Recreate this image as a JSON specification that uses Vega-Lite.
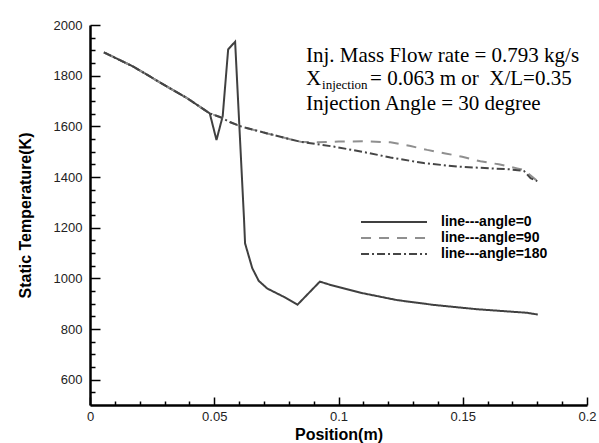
{
  "$schema": "https://vega.github.io/schema/vega-lite/v6.json",
  "width": 497,
  "height": 380,
  "autosize": {"type": "none"},
  "padding": {"left": 90, "top": 25, "right": 12, "bottom": 38},
  "background": "white",
  "config": {"view": {"stroke": null}},
  "datasets": {
    "curves": [
      {"series": "line---angle=0", "position": 0.0056, "temperature": 1892},
      {"series": "line---angle=0", "position": 0.0176, "temperature": 1835},
      {"series": "line---angle=0", "position": 0.0311, "temperature": 1756},
      {"series": "line---angle=0", "position": 0.0391, "temperature": 1711},
      {"series": "line---angle=0", "position": 0.0482, "temperature": 1651},
      {"series": "line---angle=0", "position": 0.0509, "temperature": 1546},
      {"series": "line---angle=0", "position": 0.0534, "temperature": 1640},
      {"series": "line---angle=0", "position": 0.0556, "temperature": 1904},
      {"series": "line---angle=0", "position": 0.0584, "temperature": 1934},
      {"series": "line---angle=0", "position": 0.0620, "temperature": 1230},
      {"series": "line---angle=0", "position": 0.0624, "temperature": 1138},
      {"series": "line---angle=0", "position": 0.0653, "temperature": 1040},
      {"series": "line---angle=0", "position": 0.0679, "temperature": 990},
      {"series": "line---angle=0", "position": 0.0713, "temperature": 960},
      {"series": "line---angle=0", "position": 0.0780, "temperature": 927},
      {"series": "line---angle=0", "position": 0.0835, "temperature": 896},
      {"series": "line---angle=0", "position": 0.0925, "temperature": 987},
      {"series": "line---angle=0", "position": 0.0968, "temperature": 974},
      {"series": "line---angle=0", "position": 0.1089, "temperature": 943},
      {"series": "line---angle=0", "position": 0.1236, "temperature": 914},
      {"series": "line---angle=0", "position": 0.1384, "temperature": 895},
      {"series": "line---angle=0", "position": 0.1558, "temperature": 878},
      {"series": "line---angle=0", "position": 0.1759, "temperature": 864},
      {"series": "line---angle=0", "position": 0.1802, "temperature": 857},
      {"series": "line---angle=90", "position": 0.0056, "temperature": 1892},
      {"series": "line---angle=90", "position": 0.0176, "temperature": 1835},
      {"series": "line---angle=90", "position": 0.0311, "temperature": 1756},
      {"series": "line---angle=90", "position": 0.0391, "temperature": 1711},
      {"series": "line---angle=90", "position": 0.0482, "temperature": 1651},
      {"series": "line---angle=90", "position": 0.0525, "temperature": 1636},
      {"series": "line---angle=90", "position": 0.0565, "temperature": 1616},
      {"series": "line---angle=90", "position": 0.0606, "temperature": 1600},
      {"series": "line---angle=90", "position": 0.0713, "temperature": 1572},
      {"series": "line---angle=90", "position": 0.0847, "temperature": 1539},
      {"series": "line---angle=90", "position": 0.0915, "temperature": 1537},
      {"series": "line---angle=90", "position": 0.1000, "temperature": 1540},
      {"series": "line---angle=90", "position": 0.1100, "temperature": 1541},
      {"series": "line---angle=90", "position": 0.1209, "temperature": 1537},
      {"series": "line---angle=90", "position": 0.1290, "temperature": 1522},
      {"series": "line---angle=90", "position": 0.1357, "temperature": 1507},
      {"series": "line---angle=90", "position": 0.1430, "temperature": 1493},
      {"series": "line---angle=90", "position": 0.1498, "temperature": 1480},
      {"series": "line---angle=90", "position": 0.1571, "temperature": 1462},
      {"series": "line---angle=90", "position": 0.1645, "temperature": 1450},
      {"series": "line---angle=90", "position": 0.1719, "temperature": 1434},
      {"series": "line---angle=90", "position": 0.1746, "temperature": 1428},
      {"series": "line---angle=90", "position": 0.1800, "temperature": 1384},
      {"series": "line---angle=180", "position": 0.0056, "temperature": 1892},
      {"series": "line---angle=180", "position": 0.0176, "temperature": 1835},
      {"series": "line---angle=180", "position": 0.0311, "temperature": 1756},
      {"series": "line---angle=180", "position": 0.0391, "temperature": 1711},
      {"series": "line---angle=180", "position": 0.0482, "temperature": 1651},
      {"series": "line---angle=180", "position": 0.0525, "temperature": 1636},
      {"series": "line---angle=180", "position": 0.0565, "temperature": 1616},
      {"series": "line---angle=180", "position": 0.0606, "temperature": 1600},
      {"series": "line---angle=180", "position": 0.0713, "temperature": 1572},
      {"series": "line---angle=180", "position": 0.0847, "temperature": 1539},
      {"series": "line---angle=180", "position": 0.0981, "temperature": 1520},
      {"series": "line---angle=180", "position": 0.1115, "temperature": 1496},
      {"series": "line---angle=180", "position": 0.1209, "temperature": 1477},
      {"series": "line---angle=180", "position": 0.1343, "temperature": 1455},
      {"series": "line---angle=180", "position": 0.1478, "temperature": 1441},
      {"series": "line---angle=180", "position": 0.1612, "temperature": 1434},
      {"series": "line---angle=180", "position": 0.1692, "temperature": 1430},
      {"series": "line---angle=180", "position": 0.1746, "temperature": 1424},
      {"series": "line---angle=180", "position": 0.1773, "temperature": 1395},
      {"series": "line---angle=180", "position": 0.1800, "temperature": 1384}
    ],
    "notesMain": [
      {"x": 0.0869, "y": 1855, "label": "Inj. Mass Flow rate = 0.793 kg/s"},
      {"x": 0.0869, "y": 1763, "label": "X"},
      {"x": 0.1127, "y": 1763, "label": "= 0.063 m or\u00a0 X/L=0.35"},
      {"x": 0.0869, "y": 1665, "label": "Injection Angle = 30 degree"}
    ],
    "notesSub": [
      {"x": 0.0934, "y": 1749, "label": "injection"}
    ]
  },
  "resolve": {"axis": {"x": "independent", "y": "independent"}},
  "layer": [
    {
      "data": {"name": "curves"},
      "mark": {"type": "line", "strokeWidth": 2},
      "encoding": {
        "x": {
          "field": "position", "type": "quantitative",
          "scale": {"domain": [0, 0.2], "nice": false, "zero": false},
          "axis": {
            "orient": "bottom",
            "title": "Position(m)",
            "values": [0, 0.05, 0.1, 0.15, 0.2],
            "format": "~g",
            "tickSize": -8,
            "grid": false,
            "domainColor": "black", "domainWidth": 2.5,
            "tickColor": "black", "tickWidth": 1.5,
            "labelFont": "Liberation Sans", "labelFontSize": 13, "labelColor": "#222",
            "labelPadding": 13, "labelFlush": false, "labelOverlap": false,
            "titleFont": "Liberation Sans", "titleFontSize": 16, "titleFontWeight": "bold", "titleColor": "black",
            "titleX": 248.5, "titleY": 34, "titleBaseline": "alphabetic", "titleAlign": "center"
          }
        },
        "y": {
          "field": "temperature", "type": "quantitative",
          "scale": {"domain": [500, 2000], "nice": false, "zero": false},
          "axis": {
            "orient": "left",
            "title": "Static Temperature(K)",
            "values": [600, 800, 1000, 1200, 1400, 1600, 1800, 2000],
            "format": "d",
            "tickSize": -10,
            "grid": false,
            "domainColor": "black", "domainWidth": 2.5,
            "tickColor": "black", "tickWidth": 1.5,
            "labelFont": "Liberation Sans", "labelFontSize": 13, "labelColor": "#222",
            "labelPadding": 18, "labelFlush": false, "labelOverlap": false,
            "titleFont": "Liberation Sans", "titleFontSize": 16, "titleFontWeight": "bold", "titleColor": "black",
            "titleX": -65, "titleY": 190, "titleBaseline": "middle", "titleAlign": "center", "titleAngle": -90
          }
        },
        "color": {
          "field": "series", "type": "nominal",
          "scale": {"domain": ["line---angle=0", "line---angle=90", "line---angle=180"], "range": ["#404040", "#8f8f8f", "#454545"]},
          "legend": {
            "title": null, "orient": "none", "legendX": 296, "legendY": 189,
            "symbolType": "M-5,0H5", "symbolSize": 174, "symbolStrokeWidth": 2,
            "labelFont": "Liberation Sans", "labelFontWeight": "bold", "labelFontSize": 14, "labelColor": "black",
            "labelOffset": 39, "rowPadding": 1
          }
        },
        "strokeDash": {
          "field": "series", "type": "nominal",
          "scale": {"domain": ["line---angle=0", "line---angle=90", "line---angle=180"], "range": [[1, 0], [10, 8], [8, 3, 2, 3]]},
          "legend": {
            "title": null, "orient": "none", "legendX": 296, "legendY": 189,
            "symbolType": "M-5,0H5", "symbolSize": 174, "symbolStrokeWidth": 2,
            "labelFont": "Liberation Sans", "labelFontWeight": "bold", "labelFontSize": 14, "labelColor": "black",
            "labelOffset": 39, "rowPadding": 1
          }
        }
      }
    },
    {
      "data": {"name": "notesMain"},
      "mark": {"type": "text", "font": "Liberation Serif", "fontSize": 21, "align": "left", "baseline": "alphabetic", "color": "black"},
      "encoding": {
        "x": {
          "field": "x", "type": "quantitative",
          "axis": {
            "orient": "bottom", "title": null, "labels": false, "domain": false, "grid": false,
            "values": [0.01, 0.02, 0.03, 0.04, 0.06, 0.07, 0.08, 0.09, 0.11, 0.12, 0.13, 0.14, 0.16, 0.17, 0.18, 0.19],
            "tickSize": -4, "tickColor": "black", "tickWidth": 1.5
          }
        },
        "y": {
          "field": "y", "type": "quantitative",
          "axis": {
            "orient": "left", "title": null, "labels": false, "domain": false, "grid": false,
            "values": [550, 650, 700, 750, 850, 900, 950, 1050, 1100, 1150, 1250, 1300, 1350, 1450, 1500, 1550, 1650, 1700, 1750, 1850, 1900, 1950],
            "tickSize": -5, "tickColor": "black", "tickWidth": 1.5
          }
        },
        "text": {"field": "label"}
      }
    },
    {
      "data": {"name": "notesSub"},
      "mark": {"type": "text", "font": "Liberation Serif", "fontSize": 13, "align": "left", "baseline": "alphabetic", "color": "black"},
      "encoding": {
        "x": {"field": "x", "type": "quantitative", "axis": null},
        "y": {"field": "y", "type": "quantitative", "axis": null},
        "text": {"field": "label"}
      }
    }
  ]
}
